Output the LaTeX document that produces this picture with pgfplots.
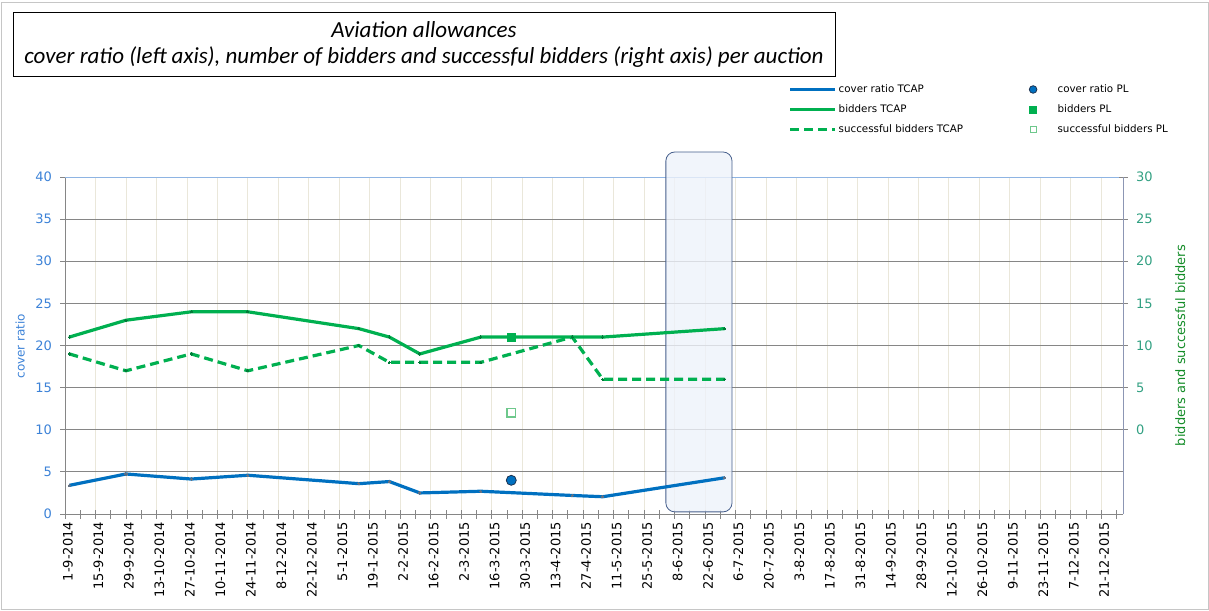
\documentclass[border=0pt]{standalone}
\usepackage{fontspec}
\setmainfont{DejaVu Sans}
\newfontfamily\titlefont{Carlito}
\usepackage{pgfplots}
\pgfplotsset{compat=1.18}
\definecolor{coverblue}{RGB}{0,112,192}
\definecolor{tcapgreen}{RGB}{0,176,80}
\definecolor{lefttick}{RGB}{60,130,215}
\definecolor{righttick}{RGB}{50,160,130}
\definecolor{rightlab}{RGB}{20,140,40}
\definecolor{gridgray}{RGB}{134,134,134}
\definecolor{gridbeige}{RGB}{234,231,218}
\definecolor{topblue}{RGB}{142,180,227}
\definecolor{boxfill}{RGB}{238,242,250}
\definecolor{boxborder}{RGB}{70,95,140}
\definecolor{rightline}{RGB}{140,150,180}
\definecolor{plopen}{RGB}{110,200,140}
\definecolor{pledge}{RGB}{30,50,80}
\pgfplotsset{
  legline/.style={legend image code/.code={\draw[##1] (0pt,0pt) -- (45pt,0pt);}},
  legcirc/.style={legend image code/.code={\path[draw=none] (0pt,0pt) -- (45pt,0pt); \draw[fill=coverblue, draw=pledge, line width=0.8pt] (22.5pt,0pt) circle (3.8pt);}},
  legsq/.style={legend image code/.code={\path[draw=none] (0pt,0pt) -- (45pt,0pt); \fill[tcapgreen] (19pt,-3.5pt) rectangle (26pt,3.5pt);}},
  legosq/.style={legend image code/.code={\path[draw=none] (0pt,0pt) -- (45pt,0pt); \draw[plopen, fill=white, line width=1.2pt] (19.5pt,-3pt) rectangle (25.5pt,3pt);}},
}
\begin{document}
\begin{tikzpicture}[x=1pt,y=1pt]
\path (-65,-96) rectangle (1144,514);
\draw[gray!45] (-64,-95) rectangle (1143,512);
\draw[black,line width=0.8pt] (-52,438) rectangle (770,502);
\node[font=\titlefont\itshape\fontsize{23}{27}\selectfont] at (359,484) {Aviation allowances};
\node[font=\titlefont\itshape\fontsize{23}{27}\selectfont] at (359,457) {cover ratio (left axis), number of bidders and successful bidders (right axis) per auction};

\begin{axis}[
  at={(0,0)}, anchor=south west,
  width=1058pt, height=337pt, scale only axis,
  xmin=0, xmax=486, ymin=0, ymax=40,
  axis lines*=left,
  axis line style={draw=gridgray, line width=0.8pt},
  clip=false,
  xtick={0,14,...,476},
  minor xtick={7,21,...,483},
  xticklabels={1-9-2014,15-9-2014,29-9-2014,13-10-2014,27-10-2014,10-11-2014,24-11-2014,8-12-2014,22-12-2014,5-1-2015,19-1-2015,2-2-2015,16-2-2015,2-3-2015,16-3-2015,30-3-2015,13-4-2015,27-4-2015,11-5-2015,25-5-2015,8-6-2015,22-6-2015,6-7-2015,20-7-2015,3-8-2015,17-8-2015,31-8-2015,14-9-2015,28-9-2015,12-10-2015,26-10-2015,9-11-2015,23-11-2015,7-12-2015,21-12-2015},
  xticklabel style={rotate=90, anchor=east, font=\fontsize{13}{15}\selectfont, black, yshift=-3pt},
  ytick={0,5,...,40},
  yticklabel style={font=\fontsize{13}{15}\selectfont, color=lefttick, xshift=-5pt},
  /pgf/number format/assume math mode=true,
  tick align=center,
  major tick length=9pt, minor tick length=9pt,
  tick style={draw=gridgray, line width=0.8pt},
  xmajorgrids, ymajorgrids,
  major x grid style={draw=gridbeige, line width=0.8pt},
  major y grid style={draw=gridgray, line width=0.8pt},
  ylabel={cover ratio},
  ylabel style={at={(axis description cs:-0.0425,0.498)}, anchor=center, rotate=0, font=\fontsize{12}{14}\selectfont, color=lefttick},
]
\draw[topblue, line width=0.8pt] (rel axis cs:0,1) -- (rel axis cs:1,1);
\draw[rounded corners=9pt, draw=boxborder, line width=0.8pt, fill=boxfill, fill opacity=0.8] (axis cs:276,42.97) rectangle (axis cs:306.4,0.25);
\addplot[coverblue, line width=3.2pt, mark=*, mark size=1.1pt, mark options={fill=pledge!70, draw=pledge!70, line width=0pt}] coordinates {
(2,3.4) (28,4.75) (58,4.15) (84,4.6) (135,3.6) (149,3.85) (163,2.5) (191,2.7) (233,2.2) (247,2.05) (303,4.3)};
\addplot[only marks, mark=*, mark size=5pt, mark options={fill=coverblue, draw=pledge, line width=0.8pt}] coordinates {(205,4.0)};
\end{axis}

\begin{axis}[
  at={(0,0)}, anchor=south west,
  width=1058pt, height=337pt, scale only axis,
  xmin=0, xmax=486, ymin=-10, ymax=30,
  axis y line*=right, axis x line=none,
  axis line style={draw=rightline, line width=0.8pt},
  ytick={0,5,...,30},
  yticklabel style={font=\fontsize{13}{15}\selectfont, color=righttick, xshift=5pt},
  /pgf/number format/assume math mode=true,
  tick align=center, major tick length=9pt,
  tick style={draw=gridgray, line width=0.8pt},
  ylabel={bidders and successful bidders},
  ylabel style={at={(axis description cs:1.054,0.5)}, anchor=center, rotate=0, font=\fontsize{13}{15}\selectfont, color=rightlab},
  legend columns=2,
  legend cell align=left,
  legend style={at={(0.681,1.286)}, anchor=north west, draw=none, fill=none,
    font=\fontsize{10.3}{12}\selectfont, row sep=6.5pt,
    /tikz/every even column/.append style={column sep=45.5pt}},
]
\addplot[tcapgreen, line width=3.2pt, mark=*, mark size=1.1pt, mark options={fill=tcapgreen!70!black, draw=tcapgreen!70!black, line width=0pt}, forget plot] coordinates {
(2,11) (28,13) (58,14) (84,14) (135,12) (149,11) (163,9) (191,11) (233,11) (247,11) (303,12)};
\addplot[tcapgreen, line width=3.2pt, dash pattern=on 9pt off 5pt, mark=*, mark size=1.1pt, mark options={solid, fill=tcapgreen!70!black, draw=tcapgreen!70!black, line width=0pt}, forget plot] coordinates {
(2,9) (28,7) (58,9) (84,7) (135,10) (149,8) (163,8) (191,8) (233,11) (247,6) (303,6)};
\addplot[only marks, mark=square*, mark size=4.2pt, mark options={fill=tcapgreen, draw=tcapgreen}, forget plot] coordinates {(205,11)};
\addplot[only marks, mark=square, mark size=4.3pt, mark options={fill=white, draw=plopen, line width=1.4pt}, forget plot] coordinates {(205,2)};

\addlegendimage{coverblue, line width=3pt, legline}
\addlegendentry{cover ratio TCAP}
\addlegendimage{legcirc}
\addlegendentry{cover ratio PL}
\addlegendimage{tcapgreen, line width=3pt, legline}
\addlegendentry{bidders TCAP}
\addlegendimage{legsq}
\addlegendentry{bidders PL}
\addlegendimage{tcapgreen, line width=3pt, dash pattern=on 9pt off 5pt, legline}
\addlegendentry{successful bidders TCAP}
\addlegendimage{legosq}
\addlegendentry{successful bidders PL}
\end{axis}
\end{tikzpicture}
\end{document}
